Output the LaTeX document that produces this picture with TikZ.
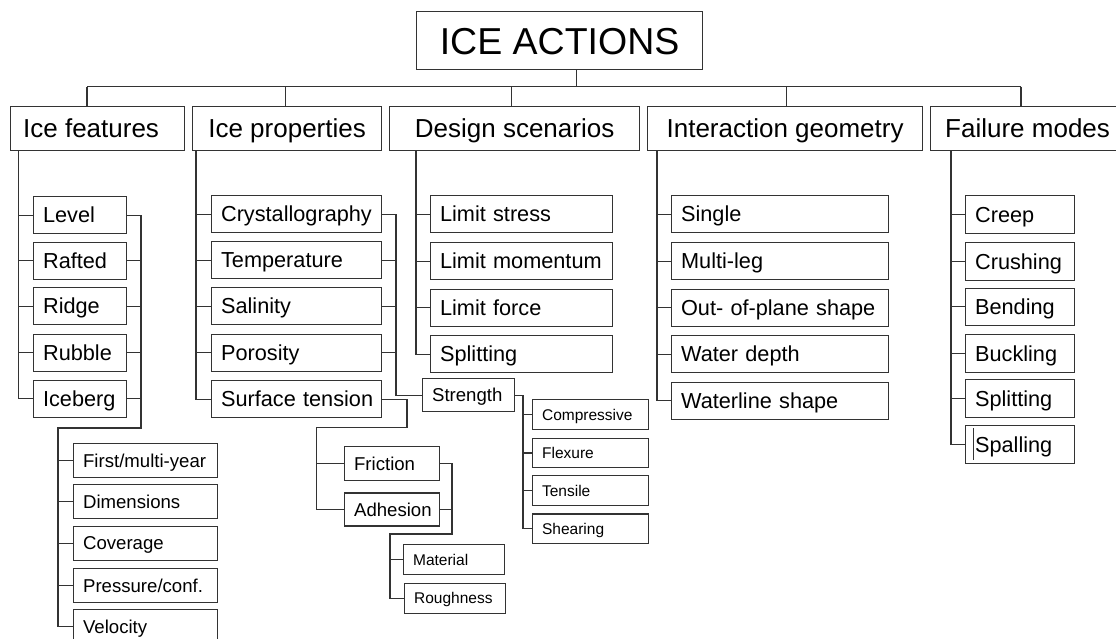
\documentclass[tikz,border=0pt]{standalone}
\usepackage{fontspec}
\setmainfont{Liberation Sans}
\begin{document}
\begin{tikzpicture}[x=1pt,y=-1pt,line width=1.2pt,color=black!80,
  rootbox/.style={draw,anchor=north west,inner sep=0pt,text=black,align=center,
    font=\fontsize{37.5pt}{40pt}\selectfont,text height=26.9pt,text depth=0pt},
  hdrbox/.style={draw,anchor=north west,inner sep=0pt,text=black,align=center,
    font=\fontsize{26pt}{30pt}\selectfont,text height=18.6pt,text depth=0pt},
  leafbox/.style={draw,anchor=north west,inner xsep=9.5pt,inner ysep=0pt,text=black,align=left},
  lvA/.style={leafbox,font=\fontsize{21.7pt}{26pt}\selectfont,text height=15.5pt,text depth=0pt},
  lvB/.style={leafbox,font=\fontsize{18.6pt}{22pt}\selectfont,text height=13.3pt,text depth=0pt},
  lvC/.style={leafbox,font=\fontsize{15.5pt}{18pt}\selectfont,text height=11.1pt,text depth=0pt}]
\path[use as bounding box,fill=white] (0,0) rectangle (1116,638);

% root and first level
\node[rootbox,minimum width=286pt,minimum height=58pt] (root) at (416,11) {ICE ACTIONS};
\node[hdrbox,minimum width=174pt,minimum height=44.5pt] (feat) at (10,105.5) {\mbox{Ice features}\hspace{13pt}};
\node[hdrbox,minimum width=189pt,minimum height=44.5pt] (prop) at (192,105.5) {Ice properties};
\node[hdrbox,minimum width=250pt,minimum height=44.5pt] (scen) at (389,105.5) {Design scenarios};
\node[hdrbox,minimum width=275pt,minimum height=44.5pt] (geom) at (647,105.5) {Interaction geometry};
\node[hdrbox,minimum width=194pt,minimum height=44.5pt] (fail) at (930,105.5) {Failure modes};

% ice features
\node[lvA,text width=74pt,minimum height=37pt] (level) at (33,196) {\mbox{Level}};
\node[lvA,text width=74pt,minimum height=37pt] (rafted) at (33,241.5) {\mbox{Rafted}};
\node[lvA,text width=74pt,minimum height=37pt] (ridge) at (33,287) {\mbox{Ridge}};
\node[lvA,text width=74pt,minimum height=37pt] (rubble) at (33,333.5) {\mbox{Rubble}};
\node[lvA,text width=74pt,minimum height=37pt] (iceberg) at (33,379.5) {\mbox{Iceberg}};

\node[lvB,text width=125pt,minimum height=34pt] (year) at (73,443) {\mbox{First/multi-year}};
\node[lvB,text width=125pt,minimum height=34pt] (dims) at (73,484) {\mbox{Dimensions}};
\node[lvB,text width=125pt,minimum height=34pt] (cover) at (73,525.5) {\mbox{Coverage}};
\node[lvB,text width=125pt,minimum height=34pt] (press) at (73,568) {\mbox{Pressure/conf.}};
\node[lvB,text width=125pt,minimum height=34pt] (vel) at (73,609) {\mbox{Velocity}};

% ice properties
\node[lvA,text width=151pt,minimum height=37pt] (cryst) at (211,195) {\mbox{Crystallography}};
\node[lvA,text width=151pt,minimum height=37pt] (temp) at (211,241) {\mbox{Temperature}};
\node[lvA,text width=151pt,minimum height=37pt] (sal) at (211,287) {\mbox{Salinity}};
\node[lvA,text width=151pt,minimum height=37pt] (por) at (211,333.5) {\mbox{Porosity}};
\node[lvA,text width=151pt,minimum height=37pt] (surf) at (211,380) {\mbox{Surface tension}};

\node[lvB,text width=73pt,minimum height=33pt] (strength) at (422,378) {\mbox{Strength}};
\node[lvC,text width=97pt,minimum height=29.7pt] (comp) at (532,399) {\mbox{Compressive}};
\node[lvC,text width=97pt,minimum height=29.7pt] (flex) at (532,437.5) {\mbox{Flexure}};
\node[lvC,text width=97pt,minimum height=29.7pt] (tens) at (532,475) {\mbox{Tensile}};
\node[lvC,text width=97pt,minimum height=29.7pt] (shear) at (532,513.3) {\mbox{Shearing}};

\node[lvB,text width=76pt,minimum height=33.5pt] (fric) at (344,446) {\mbox{Friction}};
\node[lvB,text width=76pt,minimum height=33pt] (adh) at (344,492.3) {\mbox{Adhesion}};
\node[lvC,text width=82pt,minimum height=30pt] (mat) at (403,544) {\mbox{Material}};
\node[lvC,text width=82pt,minimum height=30pt] (rough) at (404,582.5) {\mbox{Roughness}};

% design scenarios
\node[lvA,text width=163pt,minimum height=37pt] (lstress) at (430,195) {\mbox{Limit stress}};
\node[lvA,text width=163pt,minimum height=37pt] (lmom) at (430,242) {\mbox{Limit momentum}};
\node[lvA,text width=163pt,minimum height=37pt] (lforce) at (430,288.5) {\mbox{Limit force}};
\node[lvA,text width=163pt,minimum height=37pt] (split) at (430,335) {\mbox{Splitting}};

% interaction geometry
\node[lvA,text width=198pt,minimum height=37pt] (single) at (671,195) {\mbox{Single}};
\node[lvA,text width=198pt,minimum height=37pt] (multi) at (671,242) {\mbox{Multi-leg}};
\node[lvA,text width=198pt,minimum height=37pt] (outp) at (671,288.5) {\mbox{Out- of-plane shape}};
\node[lvA,text width=198pt,minimum height=37pt] (wdepth) at (671,335) {\mbox{Water depth}};
\node[lvA,text width=198pt,minimum height=37pt] (wline) at (671,381.5) {\mbox{Waterline shape}};

% failure modes
\node[lvA,text width=90pt,minimum height=37.5pt] (creep) at (965,195) {\mbox{Creep}};
\node[lvA,text width=90pt,minimum height=37.5pt] (crush) at (965,242) {\mbox{Crushing}};
\node[lvA,text width=90pt,minimum height=37.5pt] (bend) at (965,287.5) {\mbox{Bending}};
\node[lvA,text width=90pt,minimum height=37.5pt] (buck) at (965,334) {\mbox{Buckling}};
\node[lvA,text width=90pt,minimum height=37.5pt] (fsplit) at (965,379) {\mbox{Splitting}};
\node[lvA,text width=90pt,minimum height=37.5pt] (spall) at (965,425) {\mbox{Spalling}};
\draw[line width=0.8pt] ([shift={(8.3,3)}]spall.north west) -- ([shift={(8.3,-3.5)}]spall.south west);

% top bus
\coordinate (busL) at (87,86.5);
\coordinate (busR) at (1021,86.5);
\coordinate (rootC) at ([xshift=17pt]root.south);
\draw (busL) -- (busR);
\draw (rootC) -- (rootC |- busL);
\draw (busL) -- (busL |- feat.north);
\draw ([xshift=-1.5pt]prop.north) -- ++(0,-19);
\draw ([xshift=-3pt]scen.north) -- ++(0,-19);
\draw ([xshift=1.5pt]geom.north) -- ++(0,-19);
\draw (busR) -- (busR |- fail.north);

% spines below the headers
\coordinate (featS) at ([xshift=8.5pt]feat.south west);
\draw (featS) |- (iceberg.west);
\foreach \n in {level,rafted,ridge,rubble} \draw (\n.west) -- (\n.west -| featS);

\coordinate (propS) at ([xshift=4pt]prop.south west);
\draw (propS) |- (surf.west);
\foreach \n in {cryst,temp,sal,por} \draw (\n.west) -- (\n.west -| propS);

\coordinate (scenS) at ([xshift=27pt]scen.south west);
\draw (scenS) |- (split.west);
\foreach \n in {lstress,lmom,lforce} \draw (\n.west) -- (\n.west -| scenS);

\coordinate (geomS) at ([xshift=10pt]geom.south west);
\draw (geomS) |- (wline.west);
\foreach \n in {single,multi,outp,wdepth} \draw (\n.west) -- (\n.west -| geomS);

\coordinate (failS) at ([xshift=21pt]fail.south west);
\draw (failS) |- (spall.west);
\foreach \n in {creep,crush,bend,buck,fsplit} \draw (\n.west) -- (\n.west -| failS);

% ice features: second branch
\coordinate (featR) at (141,428);
\coordinate (yearS) at (58,428);
\draw (level.east) -| (featR) -- (yearS) |- (vel.west);
\foreach \n in {rafted,ridge,rubble,iceberg} \draw (\n.east) -- (\n.east -| featR);
\foreach \n in {year,dims,cover,press} \draw (\n.west) -- (\n.west -| yearS);

% ice properties: strength branch
\coordinate (propR) at (396,0);
\draw (cryst.east) -| (propR |- strength.west) -- (strength.west);
\foreach \n in {temp,sal,por} \draw (\n.east) -- (\n.east -| propR);

\coordinate (strR) at (523,0);
\draw (strength.east) -| (strR |- shear.west) -- (shear.west);
\foreach \n in {comp,flex,tens} \draw (\n.west) -- (\n.west -| strR);

% ice properties: surface tension branch
\coordinate (surfR) at (407,427.5);
\coordinate (fricS) at (316.5,427.5);
\draw (surf.east) -| (surfR) -- (fricS) |- (adh.west);
\draw (fric.west) -- (fric.west -| fricS);

\coordinate (fricR) at (452,534);
\coordinate (matS) at (390,534);
\draw (fric.east) -| (fricR) -- (matS) |- (rough.west);
\draw (adh.east) -- (adh.east -| fricR);
\draw (mat.west) -- (mat.west -| matS);
\end{tikzpicture}
\end{document}
